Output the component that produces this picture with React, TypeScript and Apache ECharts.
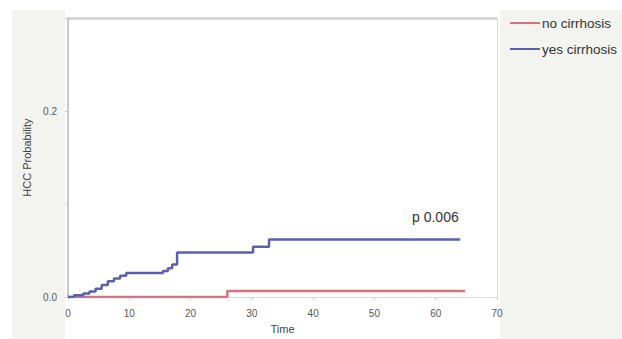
import React, { useEffect, useRef } from "react";
import * as echarts from "echarts";

const seriesNames = ["no cirrhosis", "yes cirrhosis"];
const noCirrhosis: [number, number][] = [
  [0, 0],
  [26, 0.0065],
  [64.8, 0.0065],
];
const yesCirrhosis: [number, number][] = [
  [0, 0],
  [1, 0.002],
  [2.5, 0.004],
  [3.5, 0.006],
  [4.5, 0.009],
  [5.5, 0.013],
  [6.5, 0.017],
  [7.5, 0.02],
  [8.5, 0.023],
  [9.5, 0.026],
  [15.5, 0.028],
  [16.3, 0.031],
  [17, 0.035],
  [17.8, 0.048],
  [30.2, 0.054],
  [32.8, 0.062],
  [64, 0.062],
];
const yLabels: Record<string, string> = { "0": "0.0", "0.2": "0.2" };
const pText = "p 0.006";

export default function App() {
  const ref = useRef<HTMLDivElement>(null);
  useEffect(() => {
    document.body.style.margin = "0";
    const chart = echarts.init(ref.current!, null, { renderer: "svg" });
    chart.setOption({
      animation: false,
      backgroundColor: "#ffffff",
      textStyle: { fontFamily: "Liberation Sans" },
      graphic: [
        { type: "rect", z: -10, shape: { x: 12, y: 10, width: 53, height: 329 }, style: { fill: "#f3f3ef" } },
        { type: "rect", z: -10, shape: { x: 500, y: 10, width: 122, height: 329 }, style: { fill: "#f3f3ef" } },
        {
          type: "text",
          left: 412,
          top: 210,
          style: { text: pText, fontSize: 14, fill: "#333", fontFamily: "Liberation Sans" },
        },
      ],
      legend: {
        orient: "vertical",
        left: 505,
        top: 11,
        itemGap: 12,
        itemWidth: 30,
        itemHeight: 2,
        icon: "rect",
        textStyle: { fontSize: 13.5, color: "#333", padding: [0, 0, 0, -3] },
        data: seriesNames,
      },
      grid: {
        left: 68,
        right: 125,
        top: 18,
        bottom: 35,
        show: true,
        backgroundColor: "#ffffff",
        borderWidth: 0,
      },
      xAxis: {
        type: "value",
        min: 0,
        max: 70,
        interval: 10,
        name: "Time",
        nameLocation: "middle",
        nameGap: 25,
        nameTextStyle: { fontSize: 11, color: "#444" },
        axisLine: { show: true, onZero: false, lineStyle: { color: "#dcdcdc", width: 1 } },
        axisTick: { show: true, length: 3, lineStyle: { color: "#ccc" } },
        axisLabel: { fontSize: 10, color: "#555", margin: 11 },
        splitLine: { show: false },
      },
      yAxis: [
        {
          type: "value",
          min: 0,
          max: 0.3,
          interval: 0.1,
          name: "HCC Probability",
          nameLocation: "middle",
          nameGap: 33,
          nameTextStyle: { fontSize: 11, color: "#444" },
          axisLine: { show: true, lineStyle: { color: "#c8c8c8", width: 2 } },
          axisTick: { show: true, length: 3, lineStyle: { color: "#ccc" } },
          axisLabel: {
            fontSize: 10,
            color: "#555",
            margin: 11,
            formatter: (v: number) => yLabels[String(Math.round(v * 10) / 10)] ?? "",
          },
          splitLine: {
            show: true,
            lineStyle: { color: ["transparent", "transparent", "transparent", "#d6d6d6"], width: 3 },
          },
        },
        {
          type: "value",
          position: "right",
          min: 0,
          max: 0.3,
          axisLine: { show: true, lineStyle: { color: "#dedede", width: 1 } },
          axisTick: { show: false },
          axisLabel: { show: false },
          splitLine: { show: false },
        },
      ],
      series: [
        {
          name: seriesNames[0],
          type: "line",
          step: "end",
          data: noCirrhosis,
          showSymbol: false,
          color: "#d9707e",
          lineStyle: { width: 2.5, color: "#d9707e" },
        },
        {
          name: seriesNames[1],
          type: "line",
          step: "end",
          data: yesCirrhosis,
          showSymbol: false,
          color: "#5b5fae",
          lineStyle: { width: 2.5, color: "#5b5fae" },
        },
      ],
    });
    return () => chart.dispose();
  }, []);
  return <div ref={ref} style={{ width: 622, height: 339 }} />;
}
